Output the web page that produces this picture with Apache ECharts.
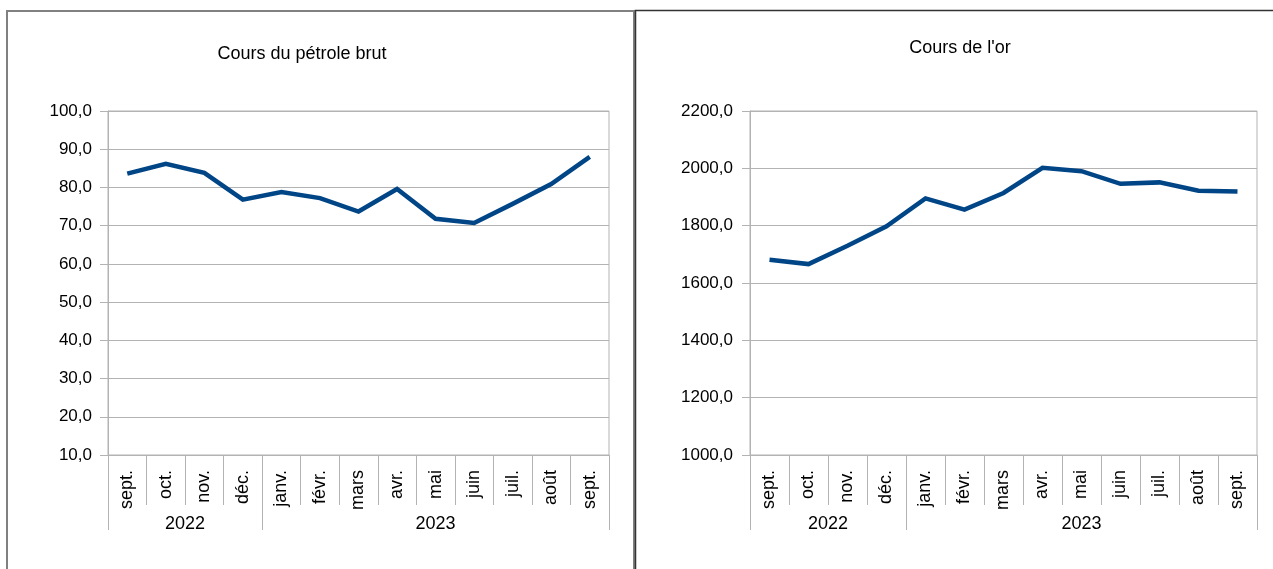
<!DOCTYPE html>
<html>
<head>
<meta charset="utf-8">
<script src="https://cdn.jsdelivr.net/npm/echarts@6/dist/echarts.min.js"></script>
<style>
html,body{margin:0;padding:0;background:#fff;}
#c{width:1273px;height:569px;}
</style>
</head>
<body>
<div id="c"></div>
<script>
// ---- data ----
const months = ['sept.', 'oct.', 'nov.', 'déc.', 'janv.', 'févr.', 'mars', 'avr.', 'mai', 'juin', 'juil.', 'août', 'sept.'];
const years = ['2022', '2023'];
const yearMonthCounts = [4, 9];
const oilValues = [83.6, 86.2, 83.8, 76.8, 78.8, 77.2, 73.7, 79.6, 71.8, 70.7, 75.7, 80.9, 88.0];
const goldValues = [1681, 1666, 1730, 1798, 1895, 1856, 1914, 2002, 1990, 1946, 1951, 1922, 1919];
const oilTicks = [10, 20, 30, 40, 50, 60, 70, 80, 90, 100];
const goldTicks = [1000, 1200, 1400, 1600, 1800, 2000, 2200];
const titles = ['Cours du pétrole brut', "Cours de l'or"];

// ---- derived year boundaries / centers ----
const yearBounds = [0];
yearMonthCounts.forEach(c => yearBounds.push(yearBounds[yearBounds.length - 1] + c));
const yearCenters = years.map((y, i) => (yearBounds[i] + yearBounds[i + 1]) / 2);

const FONT = 'Liberation Sans';
const GRID_COLOR = '#b3b3b3';
const LINE_COLOR = '#004586';
const fmt = v => v.toFixed(1).replace('.', ',');

function monthAxis(gridIndex) {
  return {
    type: 'category', gridIndex, data: months, boundaryGap: true, position: 'bottom',
    axisLine: { show: true, lineStyle: { color: GRID_COLOR, width: 1 } },
    axisTick: { show: true, interval: 0, length: 50, lineStyle: { color: GRID_COLOR } },
    axisLabel: { interval: 0, rotate: 90, margin: 15, fontSize: 18, color: '#000', fontFamily: FONT },
    splitLine: { show: false }
  };
}
function yearAxis(gridIndex) {
  return {
    type: 'value', gridIndex, min: 0, max: yearBounds[yearBounds.length - 1], position: 'bottom',
    axisLine: { show: false },
    axisTick: { show: true, customValues: yearBounds, length: 75, lineStyle: { color: GRID_COLOR } },
    axisLabel: {
      customValues: yearCenters, margin: 60, fontSize: 18, color: '#000', fontFamily: FONT,
      formatter: v => { const i = yearCenters.indexOf(v); return i >= 0 ? years[i] : ''; }
    },
    splitLine: { show: false }
  };
}
function valueAxis(gridIndex, ticks, margin) {
  return {
    type: 'value', gridIndex, min: ticks[0], max: ticks[ticks.length - 1], interval: ticks[1] - ticks[0],
    axisLine: { show: true, lineStyle: { color: GRID_COLOR } },
    axisTick: { show: true, length: 8, lineStyle: { color: GRID_COLOR } },
    axisLabel: { formatter: fmt, margin, fontSize: 17, color: '#000', fontFamily: FONT },
    splitLine: { show: true, lineStyle: { color: GRID_COLOR, width: 1 } }
  };
}
function lineSeries(idx, data) {
  return {
    type: 'line', xAxisIndex: idx * 2, yAxisIndex: idx, data,
    showSymbol: false, symbol: 'none', smooth: false,
    lineStyle: { color: LINE_COLOR, width: 4.5, join: 'miter' },
    itemStyle: { color: LINE_COLOR }, animation: false
  };
}

const chart = echarts.init(document.getElementById('c'), null, { renderer: 'canvas' });
chart.setOption({
  animation: false,
  backgroundColor: '#fff',
  title: [
    { text: titles[0], left: 302, top: 45, textAlign: 'center', padding: 0,
      textStyle: { fontFamily: FONT, fontSize: 18, fontWeight: 'normal', color: '#000' } },
    { text: titles[1], left: 960, top: 39, textAlign: 'center', padding: 0,
      textStyle: { fontFamily: FONT, fontSize: 18, fontWeight: 'normal', color: '#000' } }
  ],
  grid: [
    { left: 108, top: 111, width: 501, height: 344, show: true, borderColor: GRID_COLOR, borderWidth: 1, containLabel: false },
    { left: 750, top: 111, width: 507, height: 344, show: true, borderColor: GRID_COLOR, borderWidth: 1, containLabel: false }
  ],
  xAxis: [monthAxis(0), yearAxis(0), monthAxis(1), yearAxis(1)],
  yAxis: [valueAxis(0, oilTicks, 16), valueAxis(1, goldTicks, 17)],
  series: [lineSeries(0, oilValues), lineSeries(1, goldValues)],
  graphic: [
    { type: 'rect', silent: true, z: 100, shape: { x: 7, y: 11, width: 627, height: 620 },
      style: { fill: 'none', stroke: '#808080', lineWidth: 2 } },
    { type: 'rect', silent: true, z: 100, shape: { x: 635.5, y: 10.5, width: 700, height: 620 },
      style: { fill: 'none', stroke: '#333333', lineWidth: 1.5 } }
  ]
});
</script>
</body>
</html>
